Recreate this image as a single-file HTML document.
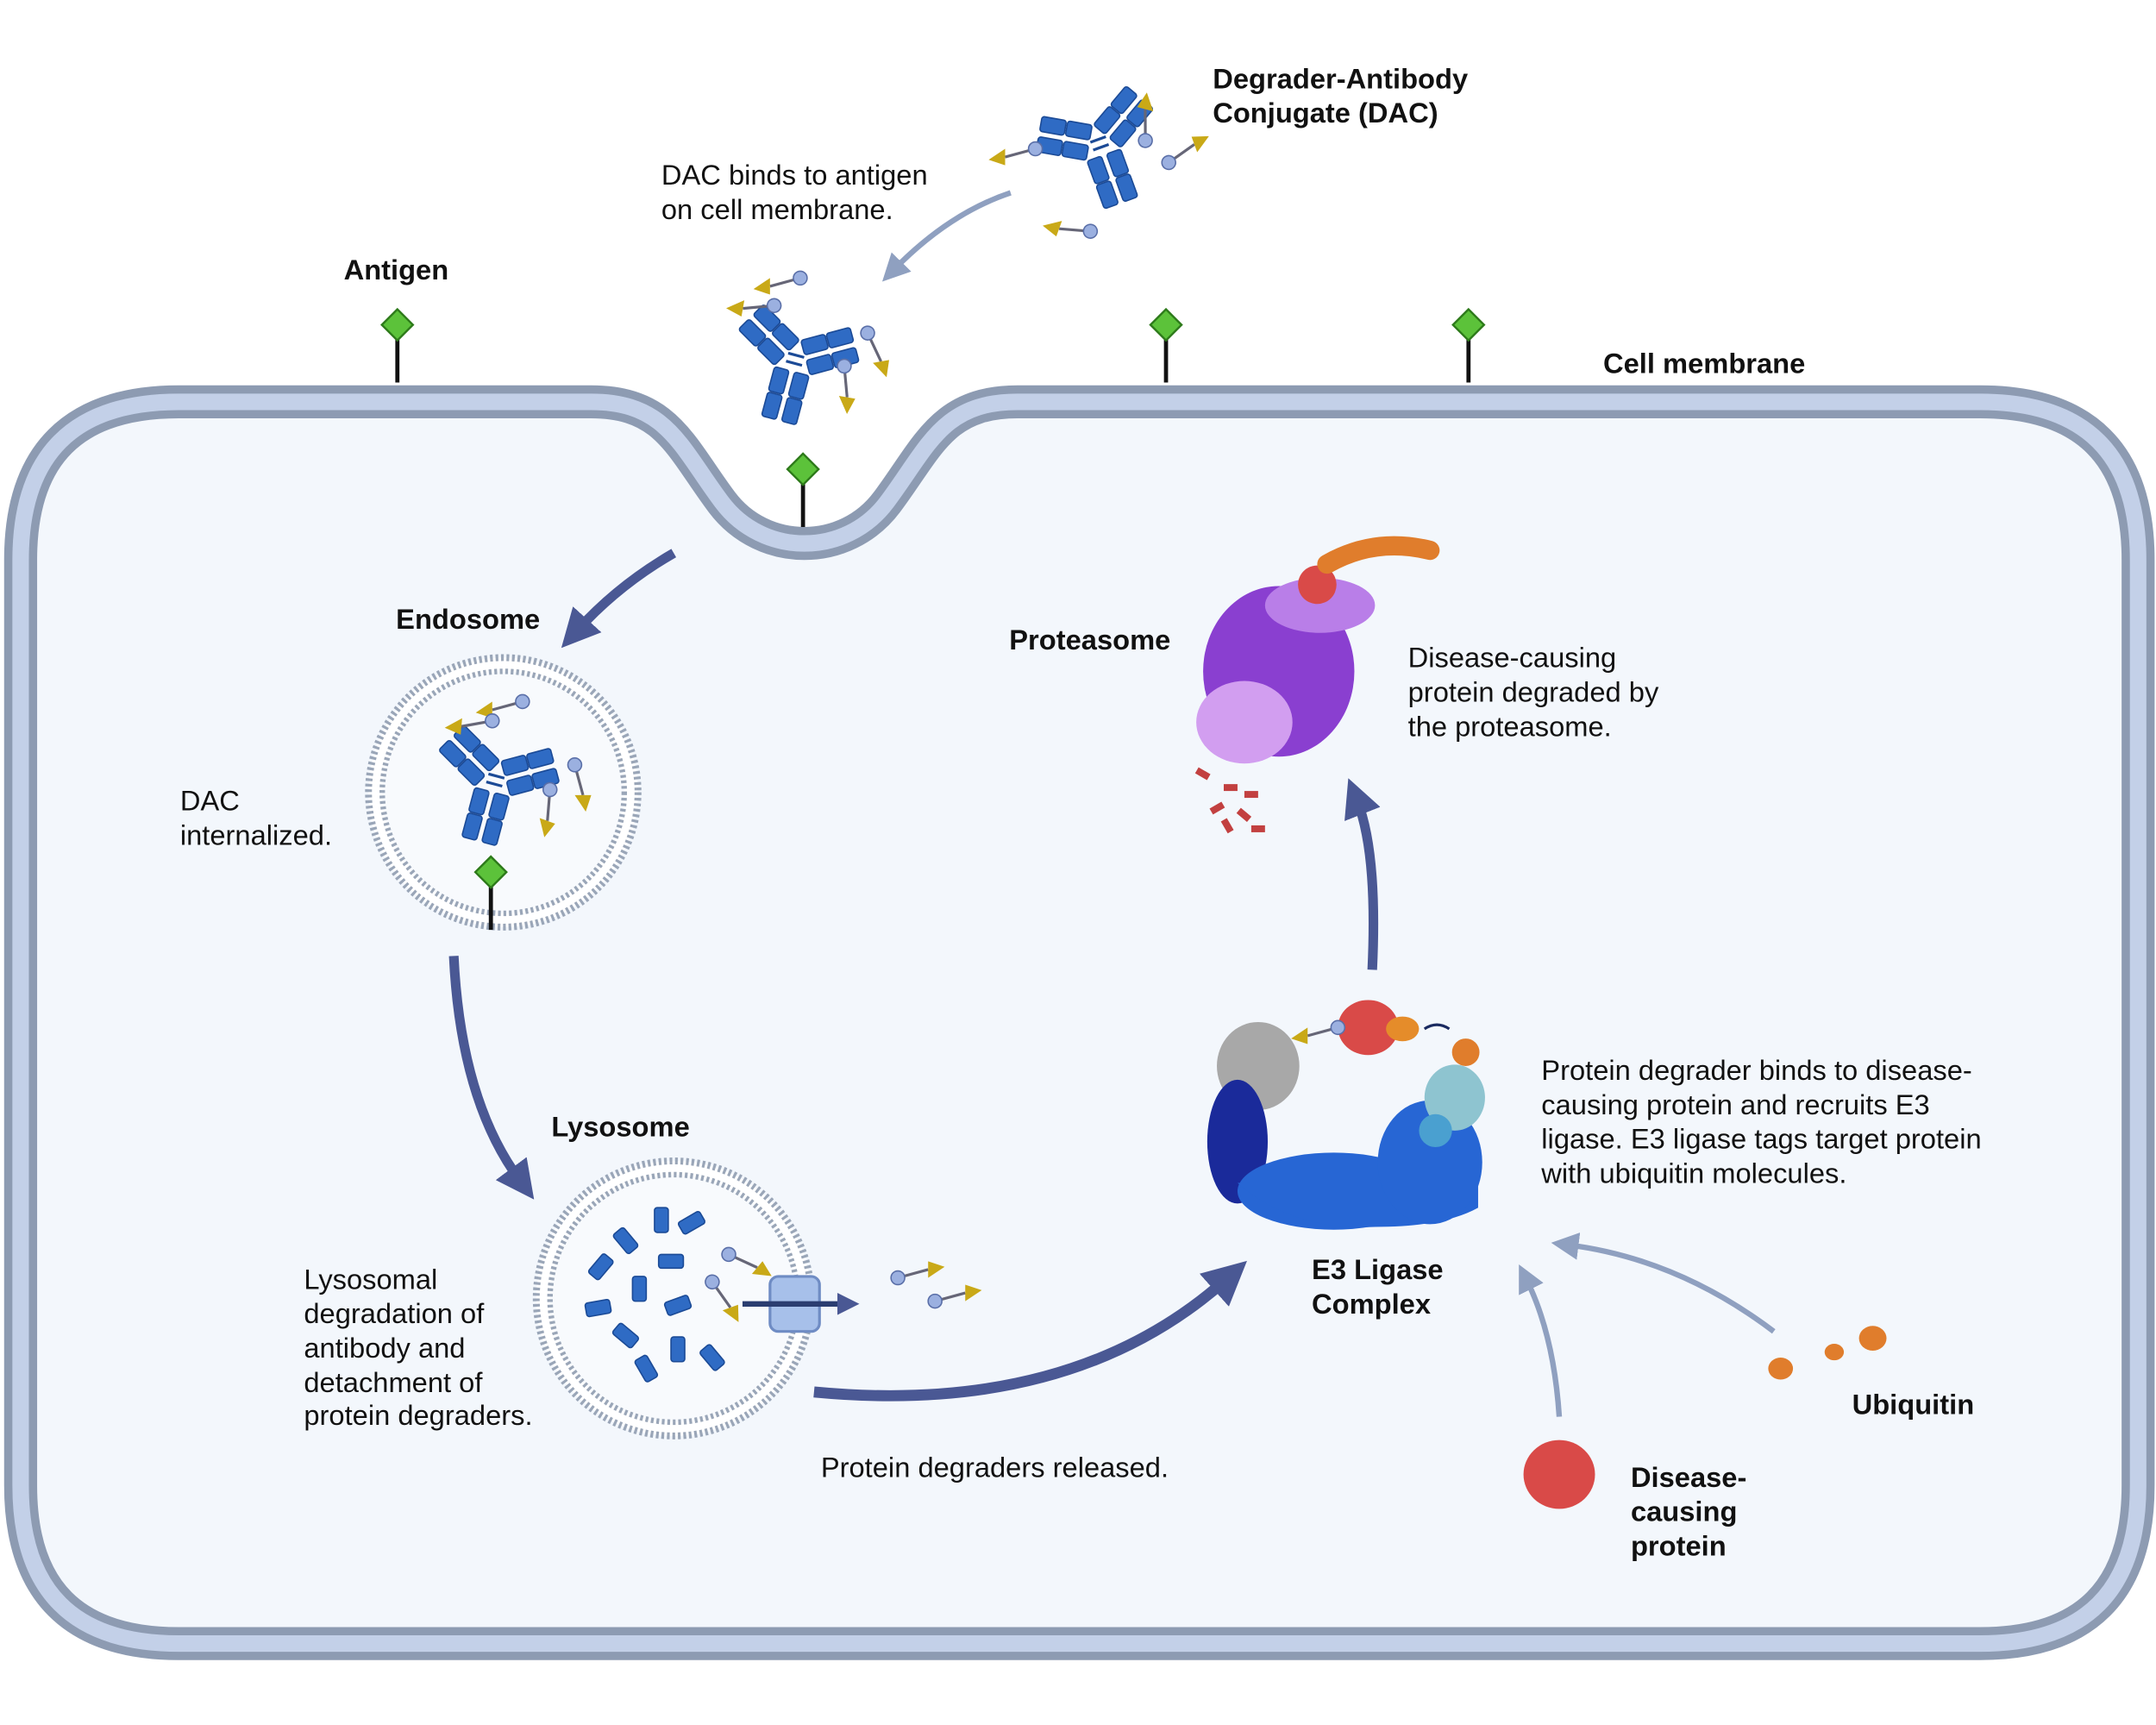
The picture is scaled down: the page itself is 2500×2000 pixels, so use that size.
<!DOCTYPE html>
<html><head><meta charset="utf-8"><style>
html,body{margin:0;padding:0;background:#fff;}
svg{display:block;}
text{font-family:"Liberation Sans",sans-serif;fill:#111;font-size:20.5px;}
.b{font-weight:bold;}
</style></head><body>
<svg width="2500" height="2000" viewBox="0 0 1568 1254" xmlns="http://www.w3.org/2000/svg">
<defs>
<g id="pair">
  <rect x="-13" y="8" width="11" height="18" rx="2" fill="#2f6bc4" stroke="#1b4a96"/>
  <rect x="-13" y="27" width="11" height="18" rx="2" fill="#2f6bc4" stroke="#1b4a96"/>
  <rect x="2" y="8" width="11" height="18" rx="2" fill="#2f6bc4" stroke="#1b4a96"/>
  <rect x="2" y="27" width="11" height="18" rx="2" fill="#2f6bc4" stroke="#1b4a96"/>
</g>
<g id="ab">
  <use href="#pair"/>
  <g transform="rotate(120)"><use href="#pair"/></g>
  <g transform="rotate(-120)"><use href="#pair"/></g>
  <path d="M-6,-4 L6,-4 M-6,2 L6,2" stroke="#1b4a96" stroke-width="2"/>
</g>
<g id="deg">
  <line x1="0" y1="0" x2="22" y2="-6" stroke="#667" stroke-width="2"/>
  <circle cx="0" cy="0" r="5" fill="#9bb0e0" stroke="#5a6fa8"/>
  <path d="M22,-12 L34,-8 L22,0 Z" fill="#c9a917"/>
</g>
<g id="ag">
  <line x1="0" y1="0" x2="0" y2="42" stroke="#111" stroke-width="3"/>
  <rect x="-8" y="-8" width="16" height="16" transform="rotate(45)" fill="#5cc23a" stroke="#2d7a1a" stroke-width="1.5"/>
</g>
<marker id="ah" markerWidth="4" markerHeight="4" refX="1.5" refY="2" orient="auto" markerUnits="strokeWidth"><path d="M0,0 L4,2 L0,4 Z" fill="#4a5894"/></marker>
<marker id="ahl" markerWidth="5" markerHeight="5" refX="2" refY="2.5" orient="auto" markerUnits="strokeWidth"><path d="M0,0 L5,2.5 L0,5 Z" fill="#8fa0c0"/></marker>
</defs>

<path d="M130,292 L430,292 C485,292 495,325 525,365 C555,405 615,405 645,365 C675,325 685,292 740,292 L1440,292 Q1555,292 1555,407 L1555,1080 Q1555,1195 1440,1195 L130,1195 Q15,1195 15,1080 L15,407 Q15,292 130,292 Z" fill="#f3f7fc" stroke="#8d9bb2" stroke-width="24"/>
<path d="M130,292 L430,292 C485,292 495,325 525,365 C555,405 615,405 645,365 C675,325 685,292 740,292 L1440,292 Q1555,292 1555,407 L1555,1080 Q1555,1195 1440,1195 L130,1195 Q15,1195 15,1080 L15,407 Q15,292 130,292 Z" fill="none" stroke="#c3d0e8" stroke-width="12"/>

<use href="#ag" x="289" y="236"/>
<use href="#ag" x="848" y="236"/>
<use href="#ag" x="1068" y="236"/>
<use href="#ag" x="584" y="341"/>

<!-- DAC top -->
<g transform="translate(800,105) rotate(-20)"><use href="#ab"/></g>
<use href="#deg" x="833" y="102" transform="rotate(-75 833 102)"/>
<use href="#deg" x="850" y="118" transform="rotate(-20 850 118)"/>
<use href="#deg" x="793" y="168" transform="rotate(200 793 168)"/>
<use href="#deg" x="753" y="108" transform="rotate(180 753 108)"/>
<!-- DAC on membrane -->
<g transform="translate(578,262) rotate(15)"><use href="#ab"/></g>
<use href="#deg" x="582" y="202" transform="rotate(180 582 202)"/>
<use href="#deg" x="563" y="222" transform="rotate(190 563 222)"/>
<use href="#deg" x="631" y="242" transform="rotate(80 631 242)"/>
<use href="#deg" x="614" y="266" transform="rotate(100 614 266)"/>
<path d="M735,140 Q690,155 650,196" fill="none" stroke="#8fa0c0" stroke-width="4" marker-end="url(#ahl)"/>

<path d="M490,402 Q450,425 420,458" fill="none" stroke="#4a5894" stroke-width="7" marker-end="url(#ah)"/>

<circle cx="366" cy="576" r="98" fill="#fff" stroke="#9aa6b8" stroke-width="5" stroke-dasharray="2 2"/>
<circle cx="366" cy="576" r="88" fill="#f8fafd" stroke="#9aa6b8" stroke-width="4" stroke-dasharray="2 2"/>
<g transform="translate(360,568) rotate(15)"><use href="#ab"/></g>
<use href="#deg" x="380" y="510" transform="rotate(180 380 510)"/>
<use href="#deg" x="358" y="524" transform="rotate(185 358 524)"/>
<use href="#deg" x="418" y="556" transform="rotate(90 418 556)"/>
<use href="#deg" x="400" y="574" transform="rotate(110 400 574)"/>
<use href="#ag" x="357" y="634"/>

<path d="M330,695 Q335,800 378,858" fill="none" stroke="#4a5894" stroke-width="7" marker-end="url(#ah)"/>

<circle cx="490" cy="944" r="100" fill="#fff" stroke="#9aa6b8" stroke-width="5" stroke-dasharray="2 2"/>
<circle cx="490" cy="944" r="90" fill="#f8fafd" stroke="#9aa6b8" stroke-width="4" stroke-dasharray="2 2"/>
<g fill="#2f6bc4" stroke="#1b4a96">
<rect x="476" y="878" width="10" height="18" rx="2"/>
<rect x="498" y="880" width="10" height="18" rx="2" transform="rotate(60 503 889)"/>
<rect x="450" y="893" width="10" height="18" rx="2" transform="rotate(-40 455 902)"/>
<rect x="483" y="908" width="10" height="18" rx="2" transform="rotate(90 488 917)"/>
<rect x="432" y="912" width="10" height="18" rx="2" transform="rotate(40 437 921)"/>
<rect x="460" y="928" width="10" height="18" rx="2"/>
<rect x="488" y="940" width="10" height="18" rx="2" transform="rotate(70 493 949)"/>
<rect x="430" y="942" width="10" height="18" rx="2" transform="rotate(80 435 951)"/>
<rect x="450" y="962" width="10" height="18" rx="2" transform="rotate(-50 455 971)"/>
<rect x="488" y="972" width="10" height="18" rx="2"/>
<rect x="465" y="986" width="10" height="18" rx="2" transform="rotate(-30 470 995)"/>
<rect x="513" y="978" width="10" height="18" rx="2" transform="rotate(-40 518 987)"/>
</g>
<use href="#deg" x="530" y="912" transform="rotate(40 530 912)"/>
<use href="#deg" x="518" y="932" transform="rotate(70 518 932)"/>
<rect x="560" y="928" width="36" height="40" rx="6" fill="#a7c0ea" stroke="#6f8cc4" stroke-width="2"/>
<path d="M540,948 L615,948" stroke="#2b3d70" stroke-width="4" marker-end="url(#ah)"/>
<use href="#deg" x="653" y="929"/>
<use href="#deg" x="680" y="946"/>

<path d="M592,1012 Q780,1030 892,930" fill="none" stroke="#4a5894" stroke-width="8" marker-end="url(#ah)"/>

<g>
<ellipse cx="915" cy="775" rx="30" ry="32" fill="#a8a8a8"/>
<ellipse cx="900" cy="830" rx="22" ry="45" fill="#1a2a9a"/>
<ellipse cx="970" cy="866" rx="70" ry="28" fill="#2766d4"/>
<path d="M900,860 Q940,895 1000,892 Q1050,892 1075,878 L1075,860 L900,860 Z" fill="#2766d4"/>
<ellipse cx="1040" cy="845" rx="38" ry="45" fill="#2766d4"/>
<ellipse cx="1058" cy="798" rx="22" ry="24" fill="#8ec4d0"/>
<ellipse cx="1044" cy="822" rx="12" ry="12" fill="#4aa0d0"/>
<ellipse cx="1066" cy="765" rx="10" ry="10" fill="#e07d2c"/>
<ellipse cx="995" cy="747" rx="22" ry="20" fill="#d94a48"/>
<ellipse cx="1020" cy="748" rx="12" ry="9" fill="#e58c2a"/>
<use href="#deg" x="973" y="747" transform="rotate(180 973 747)"/>
<path d="M1036,748 Q1045,742 1054,748" fill="none" stroke="#1a2a60" stroke-width="2"/>
</g>

<path d="M998,705 Q1002,620 987,582" fill="none" stroke="#4a5894" stroke-width="7" marker-end="url(#ah)"/>

<ellipse cx="930" cy="488" rx="55" ry="62" fill="#8a3fd0"/>
<ellipse cx="905" cy="525" rx="35" ry="30" fill="#d29ef0"/>
<ellipse cx="960" cy="440" rx="40" ry="20" fill="#b97ee8"/>
<ellipse cx="958" cy="425" rx="14" ry="14" fill="#d94a48"/>
<path d="M965,410 Q1000,390 1040,400" stroke="#e07d2c" stroke-width="14" fill="none" stroke-linecap="round"/>
<g fill="#c24040">
<rect x="870" y="560" width="10" height="5" transform="rotate(30 875 562)"/><rect x="890" y="570" width="10" height="5"/><rect x="880" y="585" width="10" height="5" transform="rotate(-30 885 587)"/><rect x="900" y="590" width="10" height="5" transform="rotate(40 905 592)"/><rect x="910" y="600" width="10" height="5"/><rect x="888" y="598" width="10" height="5" transform="rotate(60 893 600)"/><rect x="905" y="575" width="10" height="5"/>
</g>

<ellipse cx="1295" cy="995" rx="9" ry="8" fill="#e07d2c"/>
<ellipse cx="1334" cy="983" rx="7" ry="6" fill="#e07d2c"/>
<ellipse cx="1362" cy="973" rx="10" ry="9" fill="#e07d2c"/>
<path d="M1290,968 Q1220,915 1140,905" fill="none" stroke="#8fa0c0" stroke-width="4" marker-end="url(#ahl)"/>
<ellipse cx="1134" cy="1072" rx="26" ry="25" fill="#d94a48"/>
<path d="M1134,1030 Q1130,970 1110,930" fill="none" stroke="#8fa0c0" stroke-width="4" marker-end="url(#ahl)"/>

<text x="882" y="64" class="b">Degrader-Antibody</text>
<text x="882" y="89" class="b">Conjugate (DAC)</text>
<text x="481" y="134">DAC binds to antigen</text>
<text x="481" y="159">on cell membrane.</text>
<text x="250" y="203" class="b">Antigen</text>
<text x="1166" y="271" class="b">Cell membrane</text>
<text x="288" y="457" class="b">Endosome</text>
<text x="131" y="589">DAC</text>
<text x="131" y="614">internalized.</text>
<text x="734" y="472" class="b">Proteasome</text>
<text x="1024" y="485">Disease-causing</text>
<text x="1024" y="510">protein degraded by</text>
<text x="1024" y="535">the proteasome.</text>
<text x="401" y="826" class="b">Lysosome</text>
<text x="1121" y="785">Protein degrader binds to disease-</text>
<text x="1121" y="810">causing protein and recruits E3</text>
<text x="1121" y="835">ligase. E3 ligase tags target protein</text>
<text x="1121" y="860">with ubiquitin molecules.</text>
<text x="954" y="930" class="b">E3 Ligase</text>
<text x="954" y="955" class="b">Complex</text>
<text x="221" y="937">Lysosomal</text>
<text x="221" y="962">degradation of</text>
<text x="221" y="987">antibody and</text>
<text x="221" y="1012">detachment of</text>
<text x="221" y="1036">protein degraders.</text>
<text x="1347" y="1028" class="b">Ubiquitin</text>
<text x="597" y="1074">Protein degraders released.</text>
<text x="1186" y="1081" class="b">Disease-</text>
<text x="1186" y="1106" class="b">causing</text>
<text x="1186" y="1131" class="b">protein</text>
</svg>
</body></html>
